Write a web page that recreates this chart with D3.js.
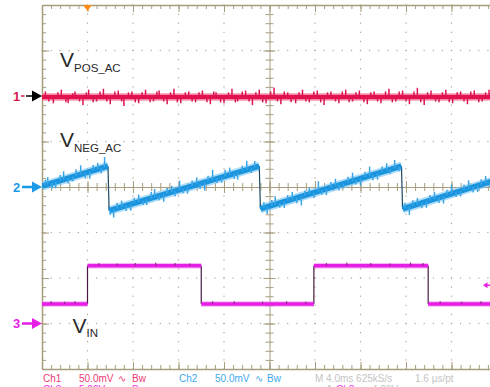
<!DOCTYPE html>
<html><head><meta charset="utf-8">
<script src="https://cdn.jsdelivr.net/npm/d3@7"></script>
<style>body{margin:0;background:#fff}svg{display:block;font-family:"Liberation Sans",Arial,sans-serif}</style>
</head><body><svg id="c" width="490" height="387"></svg>
<script>
// ---------------- data ----------------
const timeDomain = [-20, 20];          // ms (4.0 ms/div, 10 div)
const divDomain = [-4, 4];             // vertical divisions
const ch1Offset = 2,  ch1PerDiv = 50;  // mV/div
const ch2Offset = 0,  ch2PerDiv = 50;  // mV/div
const ch3Offset = -3, ch3PerDiv = 5;   // V/div

const ch1T = [-20, 20];
const ch1V = [-1, -1];
const ch2T = [-20, -14.2, -14.1, -0.9, -0.8, 11.6, 11.7, 20];
const ch2V = [1, 23, -26, 23, -24, 23, -24, 8];
const ch3T = [-20, -16, -16, -6, -6, 3.9, 3.9, 13.95, 13.95, 20];
const ch3V = [2.15, 2.15, 6.35, 6.35, 2.15, 2.15, 6.35, 6.35, 2.15, 2.15];

const ch1Spikes = [[-19.7,6],[-19.4,-5],[-19.0,-7],[-18.6,5],[-18.3,8],[-17.9,-6],[-17.7,-7],[-17.3,4],[-17.1,6],[-16.7,-5],[-16.4,-9],[-16.1,5],[-15.9,8],[-15.5,-6],[-15.2,-5],[-14.9,6],[-14.6,9],[-14.3,-5],[-14.0,-8],[-13.6,6],[-13.3,7],[-13.0,-5],[-12.8,-10],[-12.4,5],[-12.1,6],[-11.8,-6],[-11.5,-7],[-11.2,5],[-10.9,8],[-10.5,-6],[-10.2,-5],[-9.9,6],[-9.7,7],[-9.3,-5],[-9.0,-8],[-8.7,5],[-8.4,9],[-8.1,-6],[-7.8,-7],[-7.4,5],[-7.1,6],[-6.8,-5],[-6.5,-6],[-6.2,5],[-5.9,7],[-5.5,-6],[-5.2,-8],[-4.9,6],[-4.7,5],[-4.3,-6],[-4.0,-7],[-3.6,5],[-3.3,9],[-3.0,-6],[-2.8,-5],[-2.4,6],[-2.1,7],[-1.8,-5],[-1.5,-9],[-1.2,5],[-0.9,8],[-0.6,-6],[-0.3,-7],[0.1,6],[0.4,10],[0.7,-5],[1.0,-8],[1.3,6],[1.6,5],[1.9,-6],[2.3,-7],[2.6,5],[2.9,8],[3.2,-5],[3.5,-6],[3.9,6],[4.2,7],[4.5,-6],[4.8,-9],[5.1,5],[5.4,6],[5.8,-5],[6.1,-7],[6.4,6],[6.7,8],[7.0,-6],[7.3,-5],[7.6,5],[7.9,7],[8.3,-6],[8.6,-8],[8.9,5],[9.2,6],[9.5,-5],[9.8,-7],[10.2,6],[10.5,9],[10.8,-6],[11.1,-5],[11.4,6],[11.7,7],[12.0,-5],[12.3,-8],[12.7,6],[13.0,10],[13.3,-6],[13.6,-9],[13.9,5],[14.2,7],[14.6,-5],[14.9,-6],[15.2,5],[15.5,8],[15.8,-6],[16.1,-7],[16.5,5],[16.8,6],[17.1,-5],[17.4,-8],[17.7,6],[18.0,7],[18.4,-6],[18.7,-5],[19.0,5],[19.3,8],[19.6,-6]];
const ch2Spikes = [[-19.7,6],[-19.5,8],[-19.1,-6],[-18.8,-7],[-18.4,6],[-18.1,9],[-17.7,-6],[-17.3,-5],[-17.0,7],[-16.6,10],[-16.2,-6],[-15.8,-8],[-15.5,6],[-15.1,7],[-14.8,-6],[-14.5,11],[-14.0,-5],[-13.7,-9],[-13.4,6],[-13.0,7],[-12.6,-6],[-12.2,-7],[-11.9,6],[-11.5,8],[-11.1,-5],[-10.8,-6],[-10.4,7],[-10.1,9],[-9.7,-5],[-9.3,-8],[-9.0,6],[-8.6,7],[-8.3,-6],[-7.9,10],[-7.6,-5],[-7.2,-7],[-6.8,6],[-6.4,8],[-6.1,-6],[-5.7,-9],[-5.4,6],[-5.0,11],[-4.6,-5],[-4.2,-6],[-3.9,7],[-3.5,8],[-3.1,-6],[-2.8,-8],[-2.4,6],[-2.0,10],[-1.6,-5],[-1.3,7],[-0.5,6],[-0.2,-8],[0.2,6],[0.5,9],[0.9,-5],[1.3,-7],[1.6,6],[2.0,8],[2.4,-6],[2.8,-10],[3.1,5],[3.5,7],[3.9,-6],[4.3,11],[4.6,-5],[5.0,-7],[5.4,6],[5.8,8],[6.1,-6],[6.5,-5],[6.9,6],[7.3,9],[7.6,-5],[8.0,-8],[8.4,6],[8.8,10],[9.1,-6],[9.5,-7],[9.9,6],[10.3,8],[10.6,-5],[11.0,9],[11.4,-5],[11.9,6],[12.3,-9],[12.6,6],[13.0,7],[13.4,-6],[13.8,-7],[14.1,6],[14.5,8],[14.9,-6],[15.3,-8],[15.6,6],[16.0,10],[16.4,-5],[16.8,-6],[17.1,6],[17.5,9],[17.9,-6],[18.3,-7],[18.6,6],[19.0,8],[19.4,-6],[19.7,-5]];
const ch3Spikes = [[-19.2,0.3],[-18.0,0.25],[-17.1,0.3],[-15.0,0.3],[-13.4,0.25],[-11.8,0.3],[-10.0,0.35],[-8.3,0.3],[-7.0,0.25],[-5.0,0.3],[-3.1,0.3],[-0.6,0.25],[1.5,0.3],[3.2,0.25],[5.0,0.3],[6.8,0.35],[8.9,0.3],[10.6,0.25],[12.4,0.35],[13.5,0.3],[15.0,0.3],[16.9,0.25],[18.6,0.3]];

const trigTime = -16;     // ms
const trigLevel = 4.2;    // V (ch3)

const markers = [
  {label:"1", ch:1, color:"#d81b50", arrow:"#000"},
  {label:"2", ch:2, color:"#1a9ae6", arrow:"#1a9ae6"},
  {label:"3", ch:3, color:"#e61ee6", arrow:"#e61ee6"}
];
const statusRow1 = [
  {t:"Ch1", x:43, c:"#ee3a74"},{t:"50.0mV", x:79, c:"#ee3a74"},{t:"\u223F", x:118, c:"#ee3a74"},{t:"Bw", x:132, c:"#ee3a74"},
  {t:"Ch2", x:179, c:"#42aaec"},{t:"50.0mV", x:215, c:"#42aaec"},{t:"\u223F", x:255, c:"#42aaec"},{t:"Bw", x:267, c:"#42aaec"},
  {t:"M 4.0ms 625kS/s", x:315, c:"#c4c4c4"},{t:"1.6 \u00B5s/pt", x:415, c:"#c4c4c4"}
];
const statusRow2 = [
  {t:"Ch3", x:43, c:"#ee30ee"},{t:"5.00V", x:79, c:"#ee30ee"},{t:"Bw", x:132, c:"#ee30ee"},
  {t:"A", x:326, c:"#c4c4c4"},{t:"Ch3", x:336, c:"#ee30ee"},{t:"4.20V", x:372, c:"#c4c4c4"}
];

// ---------------- scales ----------------
const svg = d3.select("#c");
const x = d3.scaleLinear().domain(timeDomain).range([42, 497]);
const y = d3.scaleLinear().domain(divDomain).range([369, 5]);
const y1 = v => y(ch1Offset + v / ch1PerDiv);
const y2 = v => y(ch2Offset + v / ch2PerDiv);
const y3 = v => y(ch3Offset + v / ch3PerDiv);

svg.append("rect").attr("width",490).attr("height",387).attr("fill","#fff");

const frameColor = "#a69d7e";
const dotColor = "#aea690";

const r2 = v => Math.round(v*100)/100;
const minorX = d3.range(-20, 20.001, 0.8).map(r2);
const majorX = d3.range(-20, 20.001, 4);
const minorY = d3.range(-4, 4.001, 0.2).map(r2);
const majorY = d3.range(-4, 4.001, 1);

// dotted graticule
const grid = svg.append("g");
majorX.filter(t => t !== 0 && t !== -20 && t !== 20).forEach(t => {
  grid.selectAll(null).data(minorY).join("rect")
    .attr("x", x(t) - 0.6).attr("y", d => y(d) - 0.6).attr("width", 1.2).attr("height", 1.2).attr("fill", dotColor);
});
majorY.filter(d => d !== 0 && Math.abs(d) !== 4).forEach(d => {
  grid.selectAll(null).data(minorX).join("rect")
    .attr("x", t => x(t) - 0.6).attr("y", y(d) - 0.6).attr("width", 1.2).attr("height", 1.2).attr("fill", dotColor);
});

function styleAxis(g, keepDomain, w) {
  g.selectAll("text").remove();
  if (!keepDomain) g.select(".domain").remove();
  g.select(".domain").attr("stroke", frameColor).attr("stroke-width", w || 1);
  g.selectAll(".tick line").attr("stroke", frameColor).attr("stroke-width", 1);
}
function addAxis(axisFn, scale, vals, size, tx, ty, keepDomain, w) {
  const g = svg.append("g").attr("transform", `translate(${tx},${ty})`)
    .call(axisFn(scale).tickValues(vals).tickSize(size).tickSizeOuter(0).tickFormat(""));
  styleAxis(g, keepDomain, w);
}
// borders
addAxis(d3.axisBottom, x, minorX, 4, 0, 5, true, 1.5);
addAxis(d3.axisBottom, x, majorX, 7, 0, 5, false);
addAxis(d3.axisTop, x, minorX, 4, 0, 369, true, 1.5);
addAxis(d3.axisTop, x, majorX, 7, 0, 369, false);
addAxis(d3.axisRight, y, minorY, 4, 42, 0, true, 1.5);
addAxis(d3.axisRight, y, majorY, 7, 42, 0, false);
// center axes
addAxis(d3.axisBottom, x, minorX, 4, 0, y(0), true, 1);
addAxis(d3.axisTop, x, minorX, 4, 0, y(0), false);
addAxis(d3.axisBottom, x, majorX, 6, 0, y(0), false);
addAxis(d3.axisTop, x, majorX, 6, 0, y(0), false);
addAxis(d3.axisRight, y, minorY, 4, x(0), 0, true, 1);
addAxis(d3.axisLeft, y, minorY, 4, x(0), 0, false);
addAxis(d3.axisRight, y, majorY, 6, x(0), 0, false);
addAxis(d3.axisLeft, y, majorY, 6, x(0), 0, false);

// ---------------- traces ----------------
svg.append("clipPath").attr("id","plot").append("rect").attr("x",42).attr("y",5).attr("width",455).attr("height",364);
const traces = svg.append("g").attr("clip-path","url(#plot)");

function split(T, V) {
  const segs = [], jumps = [];
  let cur = [[T[0], V[0]]];
  for (let i = 1; i < T.length; i++) {
    if (T[i] - T[i-1] < 0.15) {
      segs.push(cur); jumps.push([[T[i-1], V[i-1]], [T[i], V[i]]]);
      cur = [[T[i], V[i]]];
    } else cur.push([T[i], V[i]]);
  }
  segs.push(cur);
  return {segs, jumps};
}
function drawTrace(T, V, ys, opt) {
  const {segs, jumps} = split(T, V);
  const line = d3.line().x(d => x(d[0])).y(d => ys(d[1]));
  segs.forEach(s => traces.append("path").attr("d", line(s)).attr("fill","none")
    .attr("stroke", opt.halo).attr("stroke-width", opt.haloW).attr("opacity", opt.haloOp));
  jumps.forEach(j => traces.append("path").attr("d", line(j)).attr("fill","none")
    .attr("stroke", opt.edge).attr("stroke-width", 1.2));
  segs.forEach(s => traces.append("path").attr("d", line(s)).attr("fill","none")
    .attr("stroke", opt.core).attr("stroke-width", opt.coreW));
  opt.spikes.forEach(([t, dv]) => {
    let b = null;
    segs.forEach(s => { if (t >= s[0][0] && t <= s[s.length-1][0]) {
      b = d3.scaleLinear().domain(s.map(p=>p[0])).range(s.map(p=>p[1]))(t); } });
    if (b === null) return;
    traces.append("line").attr("x1", x(t)).attr("x2", x(t))
      .attr("y1", ys(b)).attr("y2", ys(b + dv))
      .attr("stroke", opt.spikeColor).attr("stroke-width", opt.spikeW);
  });
}
drawTrace(ch1T, ch1V, y1, {halo:"#f27098", haloW:8, haloOp:0.55, core:"#e3124e", coreW:4.5, edge:"#700", spikes:ch1Spikes, spikeColor:"#dc1450", spikeW:1.5});
drawTrace(ch2T, ch2V, y2, {halo:"#7cc6f2", haloW:9, haloOp:0.6, core:"#1a94dd", coreW:5.5, edge:"#1d4a66", spikes:ch2Spikes, spikeColor:"#3aa6ea", spikeW:1.5});
drawTrace(ch3T, ch3V, y3, {halo:"#f27af2", haloW:5.5, haloOp:0.55, core:"#e61ee6", coreW:3.5, edge:"#4a1a44", spikes:ch3Spikes, spikeColor:"#8a2080", spikeW:1});

// trigger markers
const tx = x(trigTime);
svg.append("path").attr("d", `M${tx-4.5},5 L${tx+4.5},5 L${tx},11 Z`).attr("fill", "#ff8a14");
const ty = y3(trigLevel);
svg.append("path").attr("d", `M483,${ty} L487.5,${ty-3} L487.5,${ty+3} Z`).attr("fill", "#e61ee6");
svg.append("line").attr("x1",486).attr("x2",490).attr("y1",ty).attr("y2",ty).attr("stroke","#e61ee6").attr("stroke-width",1.5);

// channel ground markers
const offs = {1: y1(0), 2: y2(0), 3: y3(0)};
markers.forEach(m => {
  const yy = offs[m.ch];
  svg.append("text").attr("x", 13).attr("y", yy + 4.5).attr("font-size", 13).attr("font-weight", "bold")
    .attr("fill", m.color).text(m.label);
  if (m.ch === 1) {
    svg.append("line").attr("x1",21).attr("x2",24.5).attr("y1",yy).attr("y2",yy).attr("stroke",m.color).attr("stroke-width",1.5);
    svg.append("line").attr("x1",26).attr("x2",35).attr("y1",yy).attr("y2",yy).attr("stroke",m.arrow).attr("stroke-width",1.5);
  } else {
    svg.append("line").attr("x1",22).attr("x2",35).attr("y1",yy).attr("y2",yy).attr("stroke",m.arrow).attr("stroke-width",2.5);
  }
  svg.append("path").attr("d", `M32,${yy-5.5} L42,${yy} L32,${yy+5.5} Z`).attr("fill", m.arrow);
});

// signal labels
function vLabel(xp, yp, sub, dy) {
  const t = svg.append("text").attr("x", xp).attr("y", yp).attr("fill", "#2a2a2a").attr("font-size", 21).text("V");
  t.append("tspan").attr("dy", dy).attr("font-size", 11.5).text(sub);
}
vLabel(60, 67, "POS_AC", 5);
vLabel(60, 147, "NEG_AC", 4.5);
vLabel(72.5, 333, "IN", 4);

// status text (second row is cut by the bottom edge, as in the reference)
svg.selectAll(null).data(statusRow1).join("text")
  .attr("x", d => d.x).attr("y", 381.5).attr("font-size", 10).attr("fill", d => d.c).text(d => d.t);
svg.selectAll(null).data(statusRow2).join("text")
  .attr("x", d => d.x).attr("y", 393).attr("font-size", 10).attr("fill", d => d.c).text(d => d.t);
</script></body></html>
